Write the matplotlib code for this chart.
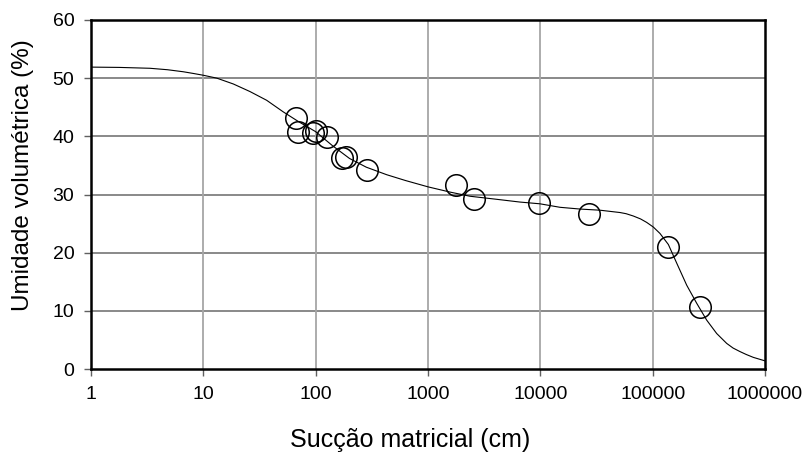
import matplotlib.pyplot as plt
import numpy as np

# measured points (suction in cm, volumetric water content in %)
suction = [66.8, 70.0, 95.3, 99.7, 125.4, 170.6, 186.3, 284.7, 1765, 2583, 9727, 27300, 137700, 264000]
theta = [43.2, 40.8, 40.6, 40.9, 39.9, 36.2, 36.4, 34.2, 31.6, 29.3, 28.5, 26.6, 20.9, 10.6]

# fitted curve
curve_x = [1, 1.78, 3.35, 4.8, 6.64, 8.2, 10, 13.2, 18.5, 26.0, 36.6, 51.5, 70.8, 100,
           141, 200, 282, 429, 631, 1007, 1585, 2366, 3981, 6590, 9930, 14960, 22500,
           34000, 51200, 58000, 67300, 78000, 88500, 101400, 116200, 138000, 163700,
           201000, 246600, 302700, 371500, 456000, 520000, 598000, 680000, 787000, 1000000]
curve_y = [51.9, 51.85, 51.7, 51.45, 51.1, 50.8, 50.5, 50.0, 49.0, 47.7, 46.2, 44.2, 42.5,
           40.8, 38.4, 36.2, 34.7, 33.4, 32.4, 31.3, 30.4, 29.7, 29.2, 28.7, 28.4, 27.8,
           27.5, 27.3, 26.9, 26.7, 26.3, 25.8, 25.2, 24.4, 23.3, 21.4, 18.2, 14.4, 11.3,
           8.4, 6.1, 4.4, 3.6, 3.0, 2.5, 2.0, 1.4]

xticks = [1, 10, 100, 1000, 10000, 100000, 1000000]
xtick_labels = ['1', '10', '100', '1000', '10000', '100000', '1000000']
yticks = [0, 10, 20, 30, 40, 50, 60]

plt.rcParams['font.family'] = ['Liberation Sans', 'DejaVu Sans']

fig = plt.figure(figsize=(8.08, 4.54), dpi=100)
ax = fig.add_axes([91/808, 1-369/454, (765-91)/808, (369-20)/454])

ax.set_xscale('log')
ax.set_xlim(1, 1000000)
ax.set_ylim(0, 60)

# grid: horizontal darker than vertical
for y in yticks[1:-1]:
    ax.axhline(y, color='#808080', linewidth=1.3, zorder=1)
for x in xticks[1:-1]:
    ax.axvline(x, color='#a6a6a6', linewidth=1.3, zorder=1)

ax.plot(curve_x, curve_y, color='black', linewidth=0.8, zorder=3)
ax.plot(suction, theta, linestyle='none', marker='o', markersize=15.5,
        markerfacecolor='none', markeredgecolor='black', markeredgewidth=1.1, zorder=4)

ax.set_xticks(xticks)
ax.set_xticklabels(xtick_labels)
ax.minorticks_off()
ax.set_yticks(yticks)
ax.tick_params(axis='both', direction='out', length=5, width=1, color='#606060')
ax.tick_params(axis='x', labelsize=14, pad=7)
ax.tick_params(axis='y', labelsize=14, pad=7)

for s in ax.spines.values():
    s.set_linewidth(1.8)
    s.set_color('black')

ax.set_xlabel('Sucção matricial (cm)', fontsize=18)
ax.set_ylabel('Umidade volumétrica (%)', fontsize=17.5)
ax.xaxis.set_label_coords(0.473, -0.168)
ax.yaxis.set_label_coords(-0.085, 0.556)

fig.savefig('out.png', dpi=100)
